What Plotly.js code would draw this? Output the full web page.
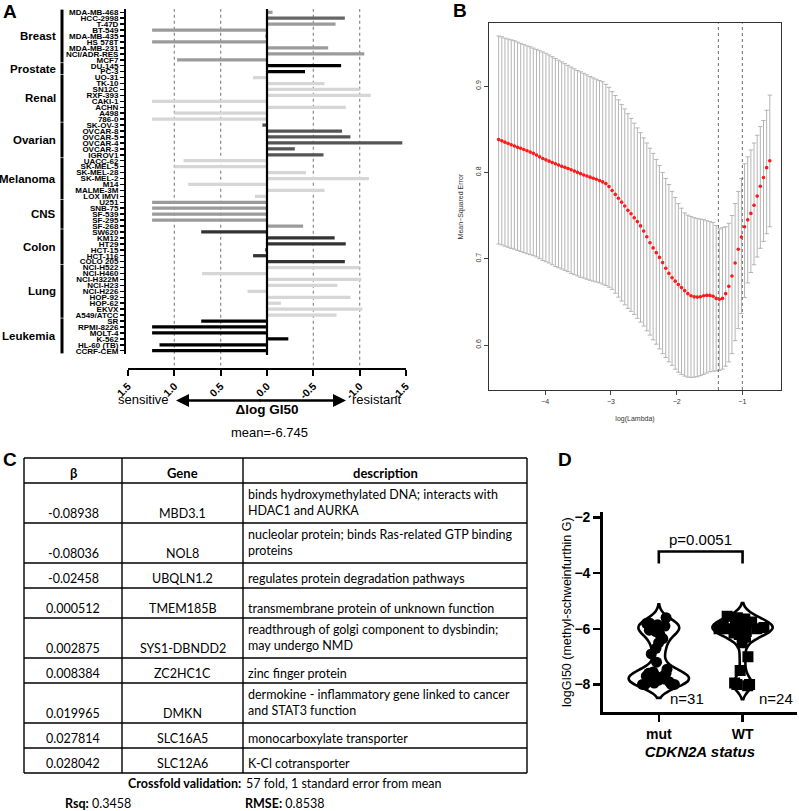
<!DOCTYPE html>
<html><head><meta charset="utf-8">
<script src="https://cdn.plot.ly/plotly-3.0.1.min.js"></script>
<style>html,body{margin:0;padding:0;background:#fff}#chart{width:799px;height:811px}</style>
</head><body><div id="chart"></div>
<script>
// ---------------- DATA ----------------
// Panel A
const groupNames = ['Breast','Prostate','Renal','Ovarian','Melanoma','CNS','Colon','Lung','Leukemia'];
const groupSizes = [9,2,8,6,7,5,6,9,6];
const cellLines = ['MDA-MB-468','HCC-2998','T-47D','BT-549','MDA-MB-435','HS 578T','MDA-MB-231','NCI/ADR-RES','MCF7',
  'DU-145','PC-3',
  'UO-31','TK-10','SN12C','RXF-393','CAKI-1','ACHN','A498','786-0',
  'SK-OV-3','OVCAR-8','OVCAR-5','OVCAR-4','OVCAR-3','IGROV1',
  'UACC-62','SK-MEL-5','SK-MEL-28','SK-MEL-2','M14','MALME-3M','LOX IMVI',
  'U251','SNB-75','SF-539','SF-295','SF-268',
  'SW620','KM12','HT29','HCT-15','HCT-116','COLO 205',
  'NCI-H522','NCI-H460','NCI-H322M','NCI-H23','NCI-H226','HOP-92','HOP-62','EKVX','A549/ATCC',
  'SR','RPMI-8226','MOLT-4','K-562','HL-60 (TB)','CCRF-CEM'];
const deltaLogGI50 = [-0.06,-0.84,-0.74,1.24,0.02,1.24,-0.66,-1.05,0.97,
  -0.80,-0.41,
  0.15,-0.62,-1.00,-1.12,1.24,-0.85,1.00,1.24,
  0.05,-0.81,-0.90,-1.46,-0.30,-0.61,
  0.90,1.00,-0.42,-1.10,0.85,-0.62,0.13,
  1.24,1.24,1.24,1.24,-0.39,
  0.71,-0.73,-0.85,0.02,0.15,-0.84,
  -1.00,0.70,-1.02,-0.76,0.21,-0.90,-0.15,-1.03,-0.75,
  0.71,1.24,1.24,-0.23,1.16,1.24];
const xTickVals = [1.5,1.0,0.5,0.0,-0.5,-1.0,-1.5];
const xTickText = ['1.5','1.0','0.5','0.0','-0.5','-1.0','-1.5'];
const meanLabel = 'mean=-6.745';

// Panel B (cross-validation curve)
const logLambda = [-4.710,-4.662,-4.614,-4.566,-4.518,-4.470,-4.422,-4.374,-4.326,-4.278,
  -4.230,-4.182,-4.134,-4.086,-4.038,-3.990,-3.942,-3.894,-3.846,-3.798,
  -3.750,-3.702,-3.654,-3.606,-3.558,-3.510,-3.462,-3.414,-3.366,-3.318,
  -3.270,-3.222,-3.174,-3.126,-3.078,-3.030,-2.982,-2.934,-2.886,-2.838,
  -2.790,-2.742,-2.694,-2.646,-2.598,-2.550,-2.502,-2.454,-2.406,-2.358,
  -2.310,-2.262,-2.214,-2.166,-2.118,-2.070,-2.022,-1.974,-1.926,-1.878,
  -1.830,-1.782,-1.734,-1.686,-1.638,-1.590,-1.542,-1.494,-1.446,-1.398,
  -1.350,-1.302,-1.254,-1.206,-1.158,-1.110,-1.062,-1.014,-0.966,-0.918,
  -0.870,-0.822,-0.774,-0.726,-0.678,-0.630,-0.582];
const cvMean = [0.838,0.8365,0.835,0.8335,0.832,0.8305,0.829,0.828,0.8265,0.825,
  0.8235,0.822,0.820,0.818,0.816,0.8145,0.813,0.8115,0.810,0.8085,
  0.807,0.8058,0.8045,0.803,0.8015,0.800,0.7985,0.797,0.7958,0.7945,
  0.7932,0.792,0.7905,0.789,0.787,0.7835,0.779,0.7745,0.770,0.7655,
  0.761,0.756,0.752,0.7475,0.743,0.738,0.732,0.7255,0.7185,0.7125,
  0.707,0.7015,0.6955,0.689,0.683,0.678,0.674,0.670,0.6665,0.663,
  0.6595,0.657,0.6558,0.6555,0.656,0.657,0.6575,0.6575,0.6565,0.654,
  0.653,0.654,0.6595,0.668,0.680,0.695,0.711,0.725,0.737,0.745,
  0.7525,0.762,0.7725,0.784,0.794,0.8055,0.8135];
const cvUpper = [0.958,0.957,0.9555,0.9545,0.9535,0.9525,0.951,0.9495,0.948,0.9465,
  0.9455,0.944,0.9425,0.941,0.9395,0.938,0.936,0.934,0.932,0.930,
  0.928,0.926,0.924,0.922,0.920,0.918,0.9165,0.9148,0.913,0.911,
  0.9095,0.908,0.9065,0.905,0.902,0.8985,0.8935,0.889,0.884,0.8785,
  0.8735,0.868,0.8625,0.857,0.8515,0.846,0.840,0.834,0.828,0.822,
  0.815,0.808,0.800,0.793,0.786,0.778,0.771,0.764,0.7585,0.753,
  0.7505,0.749,0.7475,0.7465,0.746,0.7452,0.744,0.743,0.742,0.7385,
  0.7345,0.736,0.737,0.741,0.750,0.764,0.778,0.793,0.810,0.818,
  0.826,0.834,0.843,0.853,0.860,0.872,0.8895];
const cvLower = [0.717,0.716,0.7145,0.7133,0.712,0.711,0.7095,0.7083,0.707,0.7058,
  0.7047,0.7035,0.702,0.700,0.698,0.6965,0.695,0.693,0.691,0.6895,
  0.688,0.6865,0.685,0.683,0.6815,0.680,0.6785,0.6775,0.6762,0.675,
  0.674,0.673,0.672,0.6705,0.669,0.667,0.6645,0.660,0.6555,0.651,
  0.6465,0.6425,0.639,0.6355,0.631,0.6265,0.622,0.6165,0.6115,0.606,
  0.601,0.5955,0.590,0.5855,0.5805,0.5765,0.572,0.5685,0.566,0.564,
  0.5628,0.5625,0.5628,0.5633,0.5645,0.566,0.5675,0.569,0.5697,0.570,
  0.5705,0.572,0.5755,0.5805,0.590,0.605,0.619,0.6365,0.655,0.672,
  0.684,0.693,0.702,0.712,0.720,0.729,0.737];
const lambdaMin = -1.365;
const lambda1se = -1.0;

// Panel C (table)
const tableHeader = ['β','Gene','description'];
const tableBeta = ['-0.08938','-0.08036','-0.02458','0.000512','0.002875','0.008384','0.019965','0.027814','0.028042'];
const tableGene = ['MBD3.1','NOL8','UBQLN1.2','TMEM185B','SYS1-DBNDD2','ZC2HC1C','DMKN','SLC16A5','SLC12A6'];
const tableDesc = ['binds hydroxymethylated DNA; interacts with<br>HDAC1 and AURKA',
  'nucleolar protein; binds Ras-related GTP binding<br>proteins',
  'regulates protein degradation pathways',
  'transmembrane protein of unknown function',
  'readthrough of golgi component to dysbindin;<br>may undergo NMD',
  'zinc finger protein',
  'dermokine - inflammatory gene linked to cancer<br>and STAT3 function',
  'monocarboxylate transporter',
  'K-Cl cotransporter'];
const crossfoldText = '57 fold, 1 standard error from mean';
const rsqText = '0.3458';
const rmseText = '0.8538';

// Panel D (violin)
const mutValues = [-5.6,-5.8,-5.8,-5.85,-5.9,-5.95,-6.0,-6.05,-6.1,-6.2,-6.35,-6.5,-6.7,-6.9,-7.2,-7.45,
  -7.55,-7.6,-7.6,-7.65,-7.7,-7.7,-7.75,-7.8,-7.85,-7.9,-7.95,-8.0,-8.0,-8.0,-8.0];
const wtValues = [-5.55,-5.6,-5.65,-5.75,-5.8,-5.85,-5.9,-5.9,-5.95,-6.0,-6.0,-6.0,-6.05,-6.1,-6.15,-6.2,
  -6.3,-6.5,-7.0,-7.5,-7.95,-8.0,-8.0,-8.05];
const dCategories = ['mut','WT'];
const pValueText = 'p=0.0051';

// ---------------- STYLE / LAYOUT ----------------
const W = 799, H = 811;
const px = x => x / W, py = y => 1 - y / H;
const ARIAL = 'Liberation Sans, Arial, sans-serif';
const CAL = 'Lato, Open Sans, sans-serif';
const groupColors = {Breast:'#9b9b9b',Prostate:'#000000',Renal:'#d6d6d6',Ovarian:'#555555',Melanoma:'#d6d6d6',
  CNS:'#9b9b9b',Colon:'#333333',Lung:'#d6d6d6',Leukemia:'#000000'};
const colorOverride = {'HCC-2998':'#666666'};

const rowGroup = [];
groupNames.forEach((g, i) => { for (let k = 0; k < groupSizes[i]; k++) rowGroup.push(g); });
const barColors = cellLines.map((c, i) => colorOverride[c] || groupColors[rowGroup[i]]);

const traces = [];
traces.push({type:'bar', orientation:'h', x: deltaLogGI50, y: cellLines, xaxis:'x', yaxis:'y',
  marker:{color: barColors, line:{width:0}}, width:0.55, hoverinfo:'skip'});

traces.push({type:'scatter', mode:'markers', x: logLambda, y: cvMean, xaxis:'x2', yaxis:'y2',
  marker:{color:'#ff1a1a', size:3.6},
  error_y:{type:'data', symmetric:false,
    array: cvUpper.map((u, i) => u - cvMean[i]),
    arrayminus: cvLower.map((l, i) => cvMean[i] - l),
    color:'#b4b4b4', thickness:1, width:2.2},
  hoverinfo:'skip'});

const violinCommon = {type:'violin', xaxis:'x3', yaxis:'y3', points:'all', pointpos:0, jitter:0.8,
  line:{color:'#000', width:2.6}, fillcolor:'#ffffff', bandwidth:0.24, spanmode:'soft', width:0.72,
  box:{visible:false}, meanline:{visible:false}, hoverinfo:'skip'};
traces.push(Object.assign({}, violinCommon, {x: mutValues.map(() => dCategories[0]), y: mutValues,
  marker:{color:'#000', size:11, symbol:'circle'}}));
traces.push(Object.assign({}, violinCommon, {x: wtValues.map(() => dCategories[1]), y: wtValues,
  marker:{color:'#000', size:11, symbol:'square'}}));

const shapes = [];
const annotations = [];
// ---- Panel A ----
const nRows = cellLines.length;
shapes.push({type:'line', xref:'paper', yref:'y', x0:px(125), x1:px(125), y0:-0.55, y1:nRows-0.45,
  line:{color:'#000', width:2}});
[1.0,0.5,-0.5,-1.0].forEach(v => shapes.push({type:'line', xref:'x', yref:'y', x0:v, x1:v, y0:-0.6, y1:59.5,
  line:{color:'#8a8a8a', width:1.2, dash:'dot'}, layer:'below'}));
shapes.push({type:'line', xref:'x', yref:'y', x0:0, x1:0, y0:-0.6, y1:nRows-0.3, line:{color:'#000', width:2.2}});
let start = 0;
groupNames.forEach((g, i) => {
  const end = start + groupSizes[i] - 1;
  shapes.push({type:'line', xref:'paper', yref:'y', x0:px(62), x1:px(62), y0:start-0.45, y1:end+0.45,
    line:{color:'#000', width:3}});
  annotations.push({xref:'paper', yref:'y', x:px(58), y:(start+end)/2, text:g, showarrow:false,
    xanchor:'right', yanchor:'middle', font:{family:ARIAL, size:11.5, color:'#000', weight:700}});
  start = end + 1;
});
annotations.push({xref:'paper', yref:'paper', x:px(176), y:py(400.5), ax:px(262), ay:py(400.5), axref:'paper', ayref:'paper',
  text:'', showarrow:true, arrowhead:2, arrowsize:1, arrowwidth:2.6, arrowcolor:'#000'});
annotations.push({xref:'paper', yref:'paper', x:px(346), y:py(400.5), ax:px(258), ay:py(400.5), axref:'paper', ayref:'paper',
  text:'', showarrow:true, arrowhead:2, arrowsize:1, arrowwidth:2.6, arrowcolor:'#000'});
annotations.push({xref:'paper', yref:'paper', x:px(171), y:py(400), text:'sensitive', showarrow:false,
  xanchor:'right', yanchor:'middle', font:{family:ARIAL, size:13, color:'#000'}});
annotations.push({xref:'paper', yref:'paper', x:px(350), y:py(400), text:'resistant', showarrow:false,
  xanchor:'left', yanchor:'middle', font:{family:ARIAL, size:13, color:'#000'}});
annotations.push({xref:'paper', yref:'paper', x:px(269), y:py(432), text:meanLabel, showarrow:false,
  xanchor:'center', yanchor:'middle', font:{family:ARIAL, size:13, color:'#000'}});

// ---- Panel B ----
[lambdaMin, lambda1se].forEach(v => shapes.push({type:'line', xref:'x2', yref:'y2 domain', x0:v, x1:v, y0:0, y1:1,
  line:{color:'#6a6a6a', width:1, dash:'dot'}}));

// ---- Panel C (table) ----
const colX = [24, 122, 243, 527];
const tableTop = 458, headerH = 25;
const rowH = [40,40,25,30,40,25,40,25,25];
const rowEdges = [tableTop, tableTop + headerH];
rowH.forEach(h => rowEdges.push(rowEdges[rowEdges.length-1] + h));
const tBottom = rowEdges[rowEdges.length-1];
rowEdges.forEach(y => shapes.push({type:'line', xref:'paper', yref:'paper', x0:px(colX[0]), x1:px(colX[3]), y0:py(y), y1:py(y),
  line:{color:'#000', width:1.4}}));
colX.forEach(x => shapes.push({type:'line', xref:'paper', yref:'paper', x0:px(x), x1:px(x), y0:py(tableTop), y1:py(tBottom),
  line:{color:'#000', width:1.4}}));
const colCenters = [(colX[0]+colX[1])/2, (colX[1]+colX[2])/2, (colX[2]+colX[3])/2];
tableHeader.forEach((t, j) => annotations.push({xref:'paper', yref:'paper', x:px(colCenters[j]), y:py(tableTop + headerH/2 + 2),
  text:'<b>'+t+'</b>', showarrow:false, xanchor:'center', yanchor:'middle', font:{family:CAL, size:13, color:'#000'}}));
tableBeta.forEach((b, i) => {
  const top = rowEdges[i+1], bot = rowEdges[i+2];
  const two = tableDesc[i].indexOf('<br>') >= 0;
  const yText = bot - 10;
  annotations.push({xref:'paper', yref:'paper', x:px(colCenters[0]), y:py(yText), text:b, showarrow:false,
    xanchor:'center', yanchor:'middle', font:{family:CAL, size:12.5, color:'#000'}});
  annotations.push({xref:'paper', yref:'paper', x:px(colCenters[1]), y:py(yText), text:tableGene[i], showarrow:false,
    xanchor:'center', yanchor:'middle', font:{family:CAL, size:12.5, color:'#000'}});
  annotations.push({xref:'paper', yref:'paper', x:px(colX[2] + 3), y: two ? py(top + 2) : py(yText), text:tableDesc[i], showarrow:false,
    xanchor:'left', yanchor: two ? 'top' : 'middle', align:'left', font:{family:CAL, size:12.5, color:'#000'}});
});
annotations.push({xref:'paper', yref:'paper', x:px(243), y:py(tBottom + 10), text:'<b>Crossfold validation:</b>', showarrow:false,
  xanchor:'right', yanchor:'middle', font:{family:CAL, size:12.5, color:'#000'}});
annotations.push({xref:'paper', yref:'paper', x:px(244), y:py(tBottom + 10), text:crossfoldText, showarrow:false,
  xanchor:'left', yanchor:'middle', font:{family:CAL, size:12.5, color:'#000'}});
annotations.push({xref:'paper', yref:'paper', x:px(63), y:py(tBottom + 30), text:'<b>Rsq:</b> '+rsqText, showarrow:false,
  xanchor:'left', yanchor:'middle', font:{family:CAL, size:12.5, color:'#000'}});
annotations.push({xref:'paper', yref:'paper', x:px(243), y:py(tBottom + 30), text:'<b>RMSE:</b> '+rmseText, showarrow:false,
  xanchor:'left', yanchor:'middle', font:{family:CAL, size:12.5, color:'#000'}});

// ---- Panel D ----
shapes.push({type:'path', xref:'x3', yref:'y3', path:'M 0,-3.65 L 0,-3.22 L 1,-3.22 L 1,-3.65', line:{color:'#000', width:2.6}});
annotations.push({xref:'x3', yref:'y3', x:0.5, y:-2.78, text:pValueText, showarrow:false, xanchor:'center', yanchor:'middle',
  font:{family:ARIAL, size:15, color:'#000'}});
annotations.push({xref:'paper', yref:'paper', x:px(687), y:py(698), text:'n='+mutValues.length, showarrow:false,
  xanchor:'center', yanchor:'middle', font:{family:ARIAL, size:15, color:'#000'}});
annotations.push({xref:'paper', yref:'paper', x:px(776), y:py(698), text:'n='+wtValues.length, showarrow:false,
  xanchor:'center', yanchor:'middle', font:{family:ARIAL, size:15, color:'#000'}});

[['A',10,11],['B',460,10],['C',10,459],['D',565,459]].forEach(([t,x,y]) => annotations.push({xref:'paper', yref:'paper',
  x:px(x), y:py(y), text:t, showarrow:false, xanchor:'center', yanchor:'middle', font:{family:ARIAL, size:19, color:'#000', weight:700}}));

const layout = {
  width: W, height: H, margin:{l:0, r:0, t:0, b:0}, paper_bgcolor:'#fff', plot_bgcolor:'rgba(0,0,0,0)',
  showlegend:false,
  xaxis:{domain:[px(128), px(406)], range:[1.5,-1.5], anchor:'y', tickvals:xTickVals, ticktext:xTickText, tickangle:-45,
    ticks:'outside', ticklen:6, tickwidth:2, tickcolor:'#000', showline:true, linewidth:2, linecolor:'#000',
    showgrid:false, zeroline:false, automargin:false,
    tickfont:{family:ARIAL, size:10.5, color:'#000', weight:700},
    title:{text:'<b>Δlog GI50</b>', font:{family:ARIAL, size:13.5, color:'#000'}, standoff:4}},
  yaxis:{domain:[py(368), py(9)], type:'category', categoryorder:'array', categoryarray:cellLines,
    tickmode:'array', tickvals:cellLines, ticktext:cellLines,
    range:[59.91, -0.556], anchor:'free', position:px(125), showline:false, ticks:'outside', ticklen:5, tickwidth:1.5,
    tickcolor:'#000', showgrid:false, zeroline:false, automargin:false,
    tickfont:{family:ARIAL, size:8, color:'#000', weight:700}},
  xaxis2:{domain:[px(489.3), px(780.7)], range:[-4.852,-0.416], anchor:'y2', tickvals:[-4,-3,-2,-1],
    ticktext:['\u22124','\u22123','\u22122','\u22121'],
    ticks:'outside', ticklen:4, tickwidth:1, tickcolor:'#444', showline:true, mirror:true, linewidth:1.2, linecolor:'#333',
    showgrid:false, zeroline:false, automargin:false, tickfont:{family:ARIAL, size:7, color:'#333'},
    title:{text:'log(Lambda)', font:{family:ARIAL, size:7, color:'#333'}, standoff:12}},
  yaxis2:{domain:[py(390), py(23.3)], range:[0.5479, 0.9727], anchor:'x2', tickvals:[0.6,0.7,0.8,0.9], tickangle:-90,
    ticks:'outside', ticklen:4, tickwidth:1, tickcolor:'#444', showline:true, mirror:true, linewidth:1.2, linecolor:'#333',
    showgrid:false, zeroline:false, automargin:false, tickfont:{family:ARIAL, size:7, color:'#333'},
    title:{text:'Mean\u2212Squared Error', font:{family:ARIAL, size:7, color:'#333'}, standoff:10}},
  xaxis3:{domain:[px(602.7), px(797)], type:'category', categoryorder:'array', categoryarray:dCategories,
    range:[-0.67,1.65], anchor:'y3', ticks:'outside', ticklen:7, tickwidth:2.5, tickcolor:'#000',
    showline:true, linewidth:2.5, linecolor:'#000', showgrid:false, zeroline:false, automargin:false,
    tickfont:{family:ARIAL, size:14, color:'#000', weight:700},
    title:{text:'CDKN2A status', font:{family:ARIAL, size:15, color:'#000', weight:700, style:'italic'}, standoff:6}},
  yaxis3:{domain:[py(712.3), py(512)], range:[-9,-1.8], anchor:'x3', tickvals:[-8,-6,-4,-2],
    ticks:'outside', ticklen:7, tickwidth:2.5, tickcolor:'#000', showline:true, linewidth:2.5, linecolor:'#000',
    showgrid:false, zeroline:false, automargin:false, tickfont:{family:ARIAL, size:14, color:'#000', weight:700},
    title:{text:'logGI50 (methyl-schweinfurthin G)', font:{family:ARIAL, size:12.5, color:'#000'}, standoff:0}},
  violinmode:'overlay',
  shapes: shapes,
  annotations: annotations
};

Plotly.newPlot('chart', traces, layout, {displayModeBar:false, staticPlot:true});
</script></body></html>
